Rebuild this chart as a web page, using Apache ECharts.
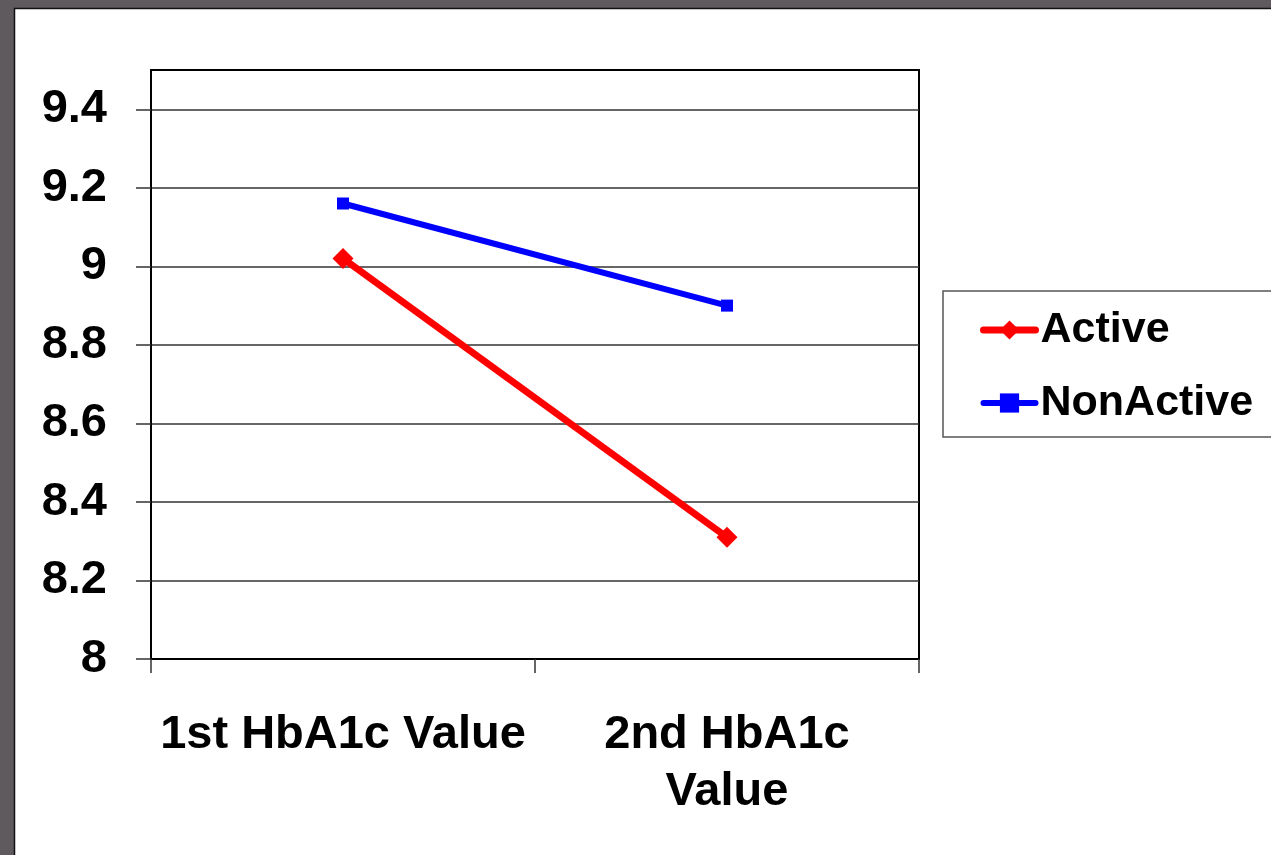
<!DOCTYPE html>
<html>
<head>
<meta charset="utf-8">
<script src="https://cdn.jsdelivr.net/npm/echarts@6/dist/echarts.min.js"></script>
<style>
  html, body { margin: 0; padding: 0; background: #ffffff; }
  #chart { width: 1271px; height: 855px; }
</style>
</head>
<body>
<div id="chart"></div>
<script>
// HbA1c readings for the two groups
const categories = ['1st HbA1c Value', '2nd HbA1c\nValue'];
const activeValues = [9.02, 8.31];
const nonActiveValues = [9.16, 8.90];
const yTicks = [8, 8.2, 8.4, 8.6, 8.8, 9, 9.2, 9.4];

const FONT = '"Liberation Sans", Arial, sans-serif';

const chart = echarts.init(document.getElementById('chart'), null, { renderer: 'canvas' });

chart.setOption({
  backgroundColor: '#ffffff',
  animation: false,
  graphic: [
    { type: 'rect', z: -10, silent: true,
      shape: { x: 0, y: 0, width: 1271, height: 855 },
      style: { fill: '#5f5a5d' } },
    { type: 'rect', z: -9, silent: true,
      shape: { x: 14.5, y: 8.5, width: 1300, height: 900 },
      style: { fill: '#ffffff', stroke: '#111111', lineWidth: 1.5 } }
  ],
  grid: {
    left: 151, right: 352, top: 70, bottom: 196,
    show: true, borderColor: '#000000', borderWidth: 2, backgroundColor: 'transparent'
  },
  legend: {
    orient: 'vertical',
    left: 943, top: 291,
    padding: [15, 40, 10, 37],
    itemGap: 25,
    itemWidth: 52, itemHeight: 24,
    borderColor: '#555555', borderWidth: 1.5, borderRadius: 0,
    backgroundColor: '#ffffff',
    textStyle: { fontFamily: FONT, fontWeight: 'bold', fontSize: 43, color: '#000', lineHeight: 48 },
    data: [
      { name: 'Active', lineStyle: { width: 7, cap: 'round' } },
      { name: 'NonActive', lineStyle: { width: 6, cap: 'round' } }
    ]
  },
  xAxis: {
    type: 'category',
    data: categories,
    boundaryGap: true,
    axisLine: { show: true, lineStyle: { color: '#000', width: 2 } },
    axisTick: { show: true, length: 14, lineStyle: { color: '#333', width: 1.5 } },
    axisLabel: {
      fontFamily: FONT, fontWeight: 'bold', fontSize: 47, color: '#000',
      margin: 48, lineHeight: 57, interval: 0
    },
    splitLine: { show: false }
  },
  yAxis: {
    type: 'value',
    min: 8, max: 9.5, interval: 0.2,
    axisLine: { show: true, lineStyle: { color: '#000', width: 2 } },
    axisTick: { show: true, length: 15, customValues: yTicks, lineStyle: { color: '#333', width: 1.5 } },
    axisLabel: {
      customValues: yTicks,
      fontFamily: FONT, fontWeight: 'bold', fontSize: 47, color: '#000', margin: 44,
      padding: [5, 0, 0, 0],
      formatter: v => String(+v.toFixed(1))
    },
    splitLine: { show: true, lineStyle: { color: '#333', width: 1.5 } }
  },
  series: [
    {
      name: 'Active', type: 'line', data: activeValues,
      color: '#ff0000',
      lineStyle: { color: '#ff0000', width: 7 },
      itemStyle: { color: '#ff0000' },
      symbol: 'diamond', symbolSize: 21, showSymbol: true
    },
    {
      name: 'NonActive', type: 'line', data: nonActiveValues,
      color: '#0000ff',
      lineStyle: { color: '#0000ff', width: 6 },
      itemStyle: { color: '#0000ff' },
      symbol: 'rect', symbolSize: 12, showSymbol: true
    }
  ]
});
</script>
</body>
</html>
